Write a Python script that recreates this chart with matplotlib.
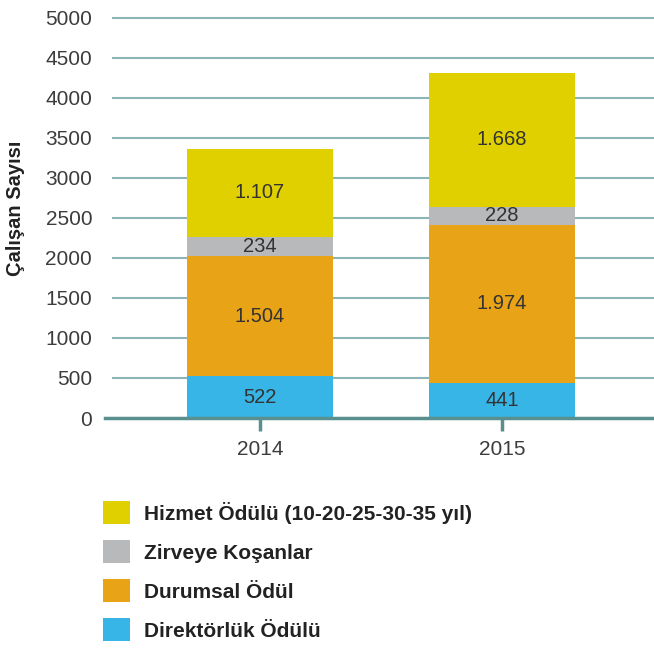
import matplotlib
matplotlib.use("Agg")
import matplotlib.pyplot as plt
from matplotlib.patches import Patch
import numpy as np

years = ["2014", "2015"]
series_names = ["Direktörlük Ödülü", "Durumsal Ödül", "Zirveye Koşanlar", "Hizmet Ödülü (10-20-25-30-35 yıl)"]
direktorluk = [522, 441]
durumsal = [1504, 1974]
zirveye = [234, 228]
hizmet = [1107, 1668]
yticks = [0, 500, 1000, 1500, 2000, 2500, 3000, 3500, 4000, 4500, 5000]

colors = ["#37b5e6", "#e8a317", "#b8b9bb", "#e0d000"]
series = [direktorluk, durumsal, zirveye, hizmet]

plt.rcParams['font.family'] = ['Liberation Sans', 'DejaVu Sans']

fig = plt.figure(figsize=(6.54, 6.51), dpi=100)
ax = fig.add_axes([113/654, 233/651, 541/654, 400/651])

x = np.arange(len(years))
bottom = np.zeros(len(years))
for vals, col in zip(series, colors):
    v = np.array(vals, dtype=float)
    ax.bar(x, v, width=0.6, bottom=bottom, color=col, zorder=2, linewidth=0)
    for xi, b, vi in zip(x, bottom, v):
        lab = f"{int(vi):,}".replace(",", ".")
        ax.text(xi, b + vi / 2, lab, ha="center", va="center", fontsize=14.5, color="#333333", zorder=3)
    bottom += v

grid_col = "#8db5b7"
for t in yticks[1:]:
    ax.axhline(t, color=grid_col, linewidth=1.5, zorder=1, clip_on=False)
ax.axhline(0, xmin=-0.015, color="#5a8f90", linewidth=2.5, zorder=4, clip_on=False)

ax.set_xlim(-0.607, 1.628)
ax.set_ylim(0, 5000)
ax.set_yticks(yticks)
ax.set_yticklabels([str(t) for t in yticks], fontsize=15, color="#3c3c3c")
ax.set_xticks(x)
ax.set_xticklabels(years, fontsize=15, color="#3c3c3c")
ax.tick_params(axis="y", length=0, pad=15)
ax.tick_params(axis="x", length=9, width=2.5, color="#5a8f90", pad=7)
for s in ax.spines.values():
    s.set_visible(False)

fig.text(16/654, 1 - 208/651, "Çalışan Sayısı", rotation=90, ha="center", va="center",
         fontsize=14.5, fontweight="bold", color="#222222")

handles = [Patch(facecolor=c, edgecolor="none") for c in colors[::-1]]
leg = fig.legend(handles, series_names[::-1], loc="upper left", bbox_to_anchor=(95/654, 1 - 493/651),
                 frameon=False, fontsize=15, handlelength=1.3, handleheight=1.3,
                 labelspacing=0.78, handletextpad=0.65, borderaxespad=0)
for t in leg.get_texts():
    t.set_fontweight("bold")
    t.set_color("#222222")

fig.savefig("out.png", dpi=100)
